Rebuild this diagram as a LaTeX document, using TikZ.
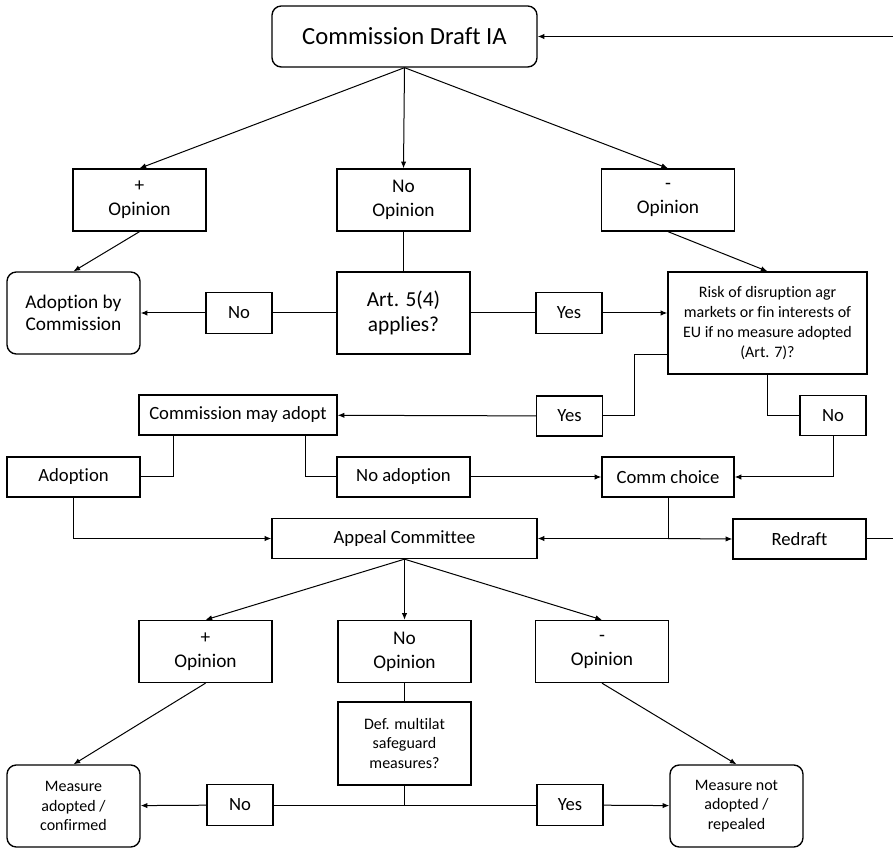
\documentclass[tikz,border=0pt]{standalone}
\usepackage{fontspec}
\setmainfont[Ligatures=NoCommon]{Carlito}
\usetikzlibrary{arrows.meta}

\begin{document}
\begin{tikzpicture}[
    x=0.75pt, y=-0.75pt,
    box/.style={draw, line width=1pt, align=center, inner sep=1pt, font=\fontsize{14}{17}\selectfont},
    rbox/.style={box, rounded corners=7pt},
    opbox/.style={box, minimum width=99.75pt, minimum height=46.5pt, font=\fontsize{14.5}{18}\selectfont},
    small/.style={box, minimum width=49.5pt, minimum height=31pt},
    wide/.style={box, minimum height=30pt},
    line/.style={line width=0.75pt},
    arrow/.style={line, -{Latex[length=5pt,width=4pt]}}
]
    \useasboundingbox (0,0) rectangle (893,848);

    % first round
    \node[rbox, minimum width=198.75pt, minimum height=45.75pt, font=\fontsize{18.5}{22}\selectfont] (draft) at (404.5,36.5) {Commission Draft IA};
    \node[opbox] (plusop) at (139.5,200) {+\\Opinion};
    \node[opbox] (noop) at (403.5,200) {No\\Opinion};
    \node[opbox] (minop) at (668,200) {-\\Opinion};
    \node[rbox, minimum width=99.75pt, minimum height=61.5pt, font=\fontsize{14.5}{17}\selectfont] (adcom) at (73.5,313) {Adoption by\\Commission};
    \node[box, minimum width=99.75pt, minimum height=61.5pt, font=\fontsize{16}{18.5}\selectfont] (art) at (403.5,313) {Art. 5(4)\\applies?};
    \node[small] (no1) at (239,313) {No};
    \node[small] (yes1) at (569,313) {Yes};
    \node[box, minimum width=149.25pt, minimum height=76.5pt, font=\fontsize{12}{15}\selectfont] (risk) at (767.5,323) {Risk of disruption agr\\markets or fin interests of\\EU if no measure adopted\\(Art. 7)?};
    \node[wide, minimum width=148.5pt] (may) at (238,415) {Commission may adopt};
    \node[small, minimum height=30pt] (yes2) at (569.5,416) {Yes};
    \node[small, minimum height=30pt] (no2) at (833,415.5) {No};
    \node[wide, minimum width=99.75pt] (adopt) at (73.5,477) {Adoption};
    \node[wide, minimum width=99.75pt] (noadopt) at (403.5,477) {No adoption};
    \node[wide, minimum width=99pt] (choice) at (668,477) {Comm choice};
    \node[wide, minimum width=198.75pt] (appeal) at (404.5,538.5) {Appeal Committee};
    \node[wide, minimum width=99.75pt] (redraft) at (799.5,539) {Redraft};

    % appeal round
    \node[opbox] (plusop2) at (205.5,651.5) {+\\Opinion};
    \node[opbox] (noop2) at (404.5,651.5) {No\\Opinion};
    \node[opbox] (minop2) at (602,651.5) {-\\Opinion};
    \node[box, minimum width=99.75pt, minimum height=62.25pt, font=\fontsize{12}{14.6}\selectfont] (def) at (404.5,743.5) {Def. multilat\\safeguard\\measures?};
    \node[rbox, minimum width=99.75pt, minimum height=61.5pt, font=\fontsize{12}{14.6}\selectfont] (madopt) at (73.5,806) {Measure\\adopted /\\confirmed};
    \node[small] (no3) at (240,805) {No};
    \node[small] (yes3) at (570,805) {Yes};
    \node[rbox, minimum width=99.75pt, minimum height=61.5pt, font=\fontsize{12}{14.6}\selectfont] (mnot) at (736.5,806) {Measure not\\adopted /\\repealed};

    \draw[arrow] (draft.south) -- (plusop.north);
    \draw[arrow] (draft.south) -- (noop.north);
    \draw[arrow] (draft.south) -- (minop.north);
    \draw[arrow] (plusop.south) -- (adcom.north);
    \draw[line] (noop) -- (art);
    \draw[arrow] (minop.south) -- (risk.north);
    \draw[line] (art) -- (no1);
    \draw[arrow] (no1) -- (adcom);
    \draw[line] (art) -- (yes1);
    \draw[arrow] (yes1) -- (yes1 -| risk.west);
    \draw[line] ([yshift=15pt]risk.south west) -- ++(-33,0) |- (yes2.east);
    \draw[arrow] (yes2) -- (may);
    \draw[line] (risk.south) |- (no2.west);
    \draw[arrow] (no2.south) |- (choice.east);
    \draw[line] ([xshift=-48.75pt]may.south) |- (adopt.east);
    \draw[line] ([xshift=50.25pt]may.south) |- (noadopt.west);
    \draw[arrow] (noadopt) -- (choice);
    \draw[arrow] (adopt.south) |- (appeal.west);
    \coordinate (cj) at (choice.south |- appeal);
    \draw[line] (choice.south) -- (cj);
    \draw[arrow] (cj) -- (appeal.east);
    \draw[arrow] (cj) -- (redraft.west);
    \draw[arrow] (redraft.east) -- ++(28,0) |- (draft.east);

    \draw[arrow] (appeal.south) -- (plusop2.north);
    \draw[arrow] (appeal.south) -- (noop2.north);
    \draw[arrow] (appeal.south) -- (minop2.north);
    \draw[arrow] (plusop2.south) -- (madopt.north);
    \draw[line] (noop2) -- (def);
    \draw[arrow] (minop2.south) -- (mnot.north);
    \draw[line] (def.south) -- (def.south |- no3);
    \draw[line] (no3) -- (yes3);
    \draw[arrow] (no3) -- (madopt);
    \draw[arrow] (yes3) -- (mnot);
\end{tikzpicture}
\end{document}
